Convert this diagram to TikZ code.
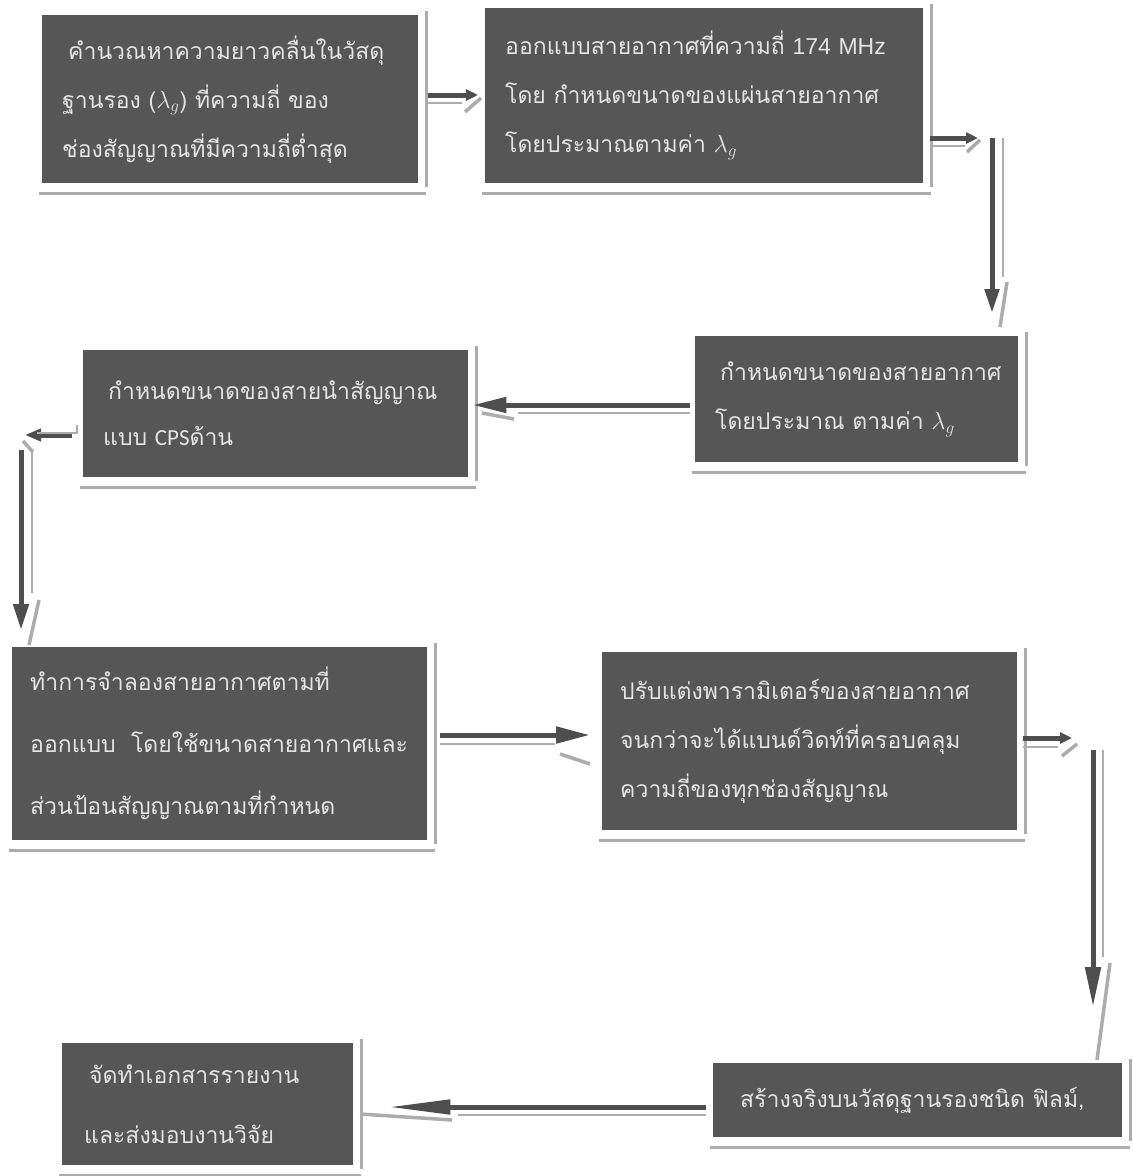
\documentclass[tikz,border=0pt]{standalone}
\usepackage{fontspec}
\setmainfont{Loma}[Script=Thai]
\newfontfamily\latinfont{Liberation Sans}
\newfontfamily\cpsfont{Carlito}
\usetikzlibrary{arrows.meta}
\definecolor{boxgray}{RGB}{86,86,86}
\definecolor{textgray}{RGB}{228,228,228}
\definecolor{arrowgray}{RGB}{78,78,78}
\definecolor{shadegray}{RGB}{172,172,172}
\tikzset{
	box/.style={anchor=north west, fill=boxgray, text=textgray, align=left,
		inner xsep=20pt, inner ysep=0pt, font=\fontsize{23pt}{49pt}\selectfont},
	frame/.style={draw=shadegray, line width=2.5pt},
	flow/.style={draw=arrowgray, line width=5pt, -{Triangle[length=20pt,width=15pt]}},
	flowshade/.style={draw=shadegray, line width=2.5pt},
	tipshade/.style={draw=shadegray, line width=3.5pt}
}
\begin{document}
\begin{tikzpicture}[x=1pt,y=-1pt]
		\useasboundingbox (0,0) rectangle (1133,1176);
		
		\node[box, minimum width=376pt, minimum height=168pt, text width=336pt] (A) at (42,15)
		{\hspace*{6pt}คำนวณหาความยาวคลื่นในวัสดุ\\ ฐานรอง~($\lambda_g$)~ที่ความถี่~ของ\\ ช่องสัญญาณที่มีความถี่ต่ำสุด};
		\node[box, minimum width=438pt, minimum height=175pt, text width=398pt] (B) at (485,8)
		{ออกแบบสายอากาศที่ความถี่~{\latinfont 174~MHz}\\ โดย~กำหนดขนาดของแผ่นสายอากาศ\\ โดยประมาณตามค่า~$\lambda_g$};
		\node[box, minimum width=323pt, minimum height=126pt, text width=283pt] (C) at (695,336)
		{\hspace*{5pt}กำหนดขนาดของสายอากาศ\\ โดยประมาณ~ตามค่า~$\lambda_g$};
		\node[box, minimum width=385pt, minimum height=127pt, text width=345pt,
		font=\fontsize{23pt}{46pt}\selectfont] (D) at (83,350)
		{\hspace*{5pt}กำหนดขนาดของสายนำสัญญาณ\\ แบบ~{\cpsfont CPS}ด้าน};
		\node[box, inner xsep=18pt, minimum width=415pt, minimum height=193pt, text width=379pt,
		font=\fontsize{23pt}{62pt}\selectfont] (E) at (12,647)
		{ทำการจำลองสายอากาศตามที่\\ ออกแบบ~~โดยใช้ขนาดสายอากาศและ\\ ส่วนป้อนสัญญาณตามที่กำหนด};
		\node[box, inner xsep=18pt, minimum width=415pt, minimum height=178pt, text width=379pt] (F) at (602,652)
		{ปรับแต่งพารามิเตอร์ของสายอากาศ\\ จนกว่าจะได้แบนด์วิดท์ที่ครอบคลุม\\ ความถี่ของทุกช่องสัญญาณ};
		\node[box, inner xsep=27pt, minimum width=409pt, minimum height=74pt, text width=355pt] (G) at (713,1063)
		{สร้างจริงบนวัสดุฐานรองชนิด~ฟิลม์,};
		\node[box, inner xsep=22pt, minimum width=291pt, minimum height=122pt, text width=247pt,
		font=\fontsize{23pt}{60pt}\selectfont] (H) at (62,1043)
		{\hspace*{5pt}จัดทำเอกสารรายงาน\\ และส่งมอบงานวิจัย};
		
		\foreach \n in {A,B,C,D,E,F,G,H}
		\draw[frame] ([shift={(8pt,4pt)}]\n.north east) -- ([shift={(8pt,-4pt)}]\n.south east)
		([shift={(-3pt,-10pt)}]\n.south west) -- ([shift={(8pt,-10pt)}]\n.south east);
		
		\coordinate (ab) at (428,95);
		\coordinate (bc) at (992,138);
		\coordinate (cd) at (690,405);
		\coordinate (de) at (21,435);
		\coordinate (ef) at (440,735);
		\coordinate (fg) at (1093,738);
		\coordinate (gh) at (706,1107);
		
		\draw[flow, -{Triangle[length=12pt,width=11pt]}] (ab) -- ([xshift=-7pt]B.west |- ab);
		\draw[flowshade] ([yshift=-8pt]ab) -- ++(34,0);
		\draw[tipshade] ([shift={(37pt,-17pt)}]ab) -- ++(16,-14);
		
		\draw[flow, -{Triangle[length=12pt,width=11pt]}] ([xshift=7pt]B.east |- bc) -- ([xshift=-14pt]bc);
		\draw[flowshade] ([shift={(7pt,-8pt)}]B.east |- bc) -- ++(35,0);
		\draw[tipshade] ([shift={(-25pt,-14pt)}]bc) -- ++(13,-12);
		\draw[flow, -{Triangle[length=24pt,width=14pt]}] (bc) -- ([yshift=23pt]C.north -| bc);
		\draw[flowshade] ([xshift=11pt]bc) -- ++(0,139);
		\draw[tipshade] ([shift={(15pt,-144pt)}]bc) -- ++(-7,45);
		
		\draw[flow, -{Triangle[length=34pt,width=15pt]}] (cd) -- ([xshift=4pt]D.east |- cd);
		\draw[flowshade] ([yshift=-8pt]cd) -- ++(-172,0);
		\draw[tipshade] ([shift={(-176pt,-14pt)}]cd) -- ++(-32,-6);
		
		\draw[flow, -{Triangle[length=16pt,width=12pt]}] ([xshift=-11pt]D.west |- de) -- ([xshift=4pt]de);
		\draw[flowshade] ([shift={(-6pt,10pt)}]D.west |- de) -- ++(0,8) -- ++(-40,0);
		\draw[tipshade] ([shift={(2pt,-6pt)}]de) -- ++(10,11);
		\draw[flow, -{Triangle[length=26pt,width=15pt]}] ([yshift=-15pt]de) -- ([yshift=17pt]E.north -| de);
		\draw[flowshade] ([shift={(11pt,-15pt)}]de) -- ++(0,143);
		\draw[tipshade] ([shift={(18pt,-165pt)}]de) -- ++(-10,45);
		
		\draw[flow, -{Triangle[length=34pt,width=16pt]}] (ef) -- ([xshift=-12pt]F.west |- ef);
		\draw[flowshade] ([yshift=-9pt]ef) -- ++(115,0);
		\draw[tipshade] ([shift={(120pt,-19pt)}]ef) -- ++(30,10);
		
		\draw[flow, -{Triangle[length=12pt,width=11pt]}] ([xshift=6pt]F.east |- fg) -- ([xshift=-21pt]fg);
		\draw[flowshade] ([shift={(6pt,-9pt)}]F.east |- fg) -- ++(35,0);
		\draw[tipshade] ([shift={(-31pt,-18pt)}]fg) -- ++(15,-12);
		\draw[flow, -{Triangle[length=40pt,width=15pt]}] ([yshift=-12pt]fg) -- ([yshift=56pt]G.north -| fg);
		\draw[flowshade] ([shift={(10pt,-12pt)}]fg) -- ++(0,207);
		\draw[tipshade] ([shift={(17pt,-225pt)}]fg) -- ++(-13,97);
		
		\draw[flow, -{Triangle[length=62pt,width=14pt]}] (gh) -- ([xshift=35pt]H.east |- gh);
		\draw[flowshade] ([yshift=-8pt]gh) -- ++(-248,0);
		\draw[tipshade] ([shift={(-254pt,-13pt)}]gh) -- ++(-92,-6);
		
		\end{tikzpicture}
\end{document}
